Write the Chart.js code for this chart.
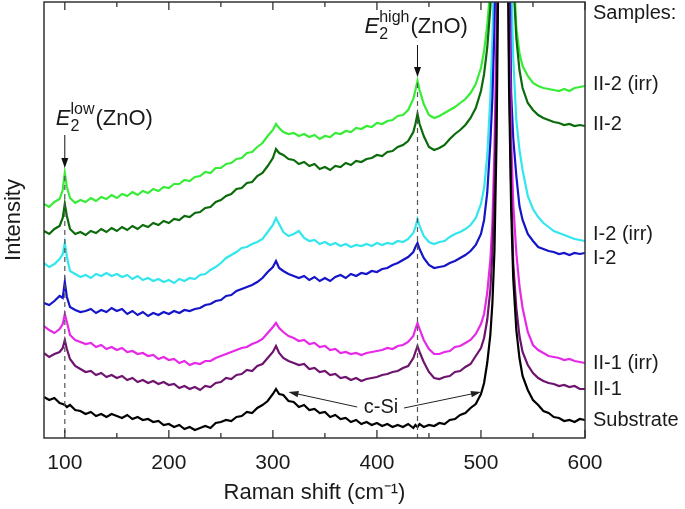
<!DOCTYPE html>
<html>
<head>
<meta charset="utf-8">
<script src="https://cdn.jsdelivr.net/npm/chart.js@4.4.1/dist/chart.umd.min.js"></script>
<style>
  html, body { margin: 0; padding: 0; background: #ffffff; }
  #wrap { width: 685px; height: 509px; }
</style>
</head>
<body>
<div id="wrap"><canvas id="c" width="685" height="509"></canvas></div>
<script>
// ---- Data (intensity in arbitrary units, curves already offset) ----
const ramanShift = [80,85,90,95,98,100,102,105,110,115,120,125,130,135,140,145,150,155,160,165,170,175,180,185,190,195,200,205,210,215,220,225,230,235,240,245,250,255,260,265,270,275,280,285,290,295,300,303,306,310,315,320,325,330,335,340,345,350,355,360,365,370,375,380,385,390,395,400,405,410,415,420,425,430,435,437,439,441,445,450,455,460,465,470,475,480,485,490,495,500,503,506,509,511,513,515,517,519,521,523,525,527,529,531,534,537,540,545,550,555,560,565,570,575,580,585,590,595,600];

const substrate = [41,38,40,35,34,33,31,33,28,27,24,26,22,24,21,24,22,20,23,19,21,18,19,16,17,13,14,11,13,9,11,8,10,12,10,15,16,18,17,21,22,26,25,30,33,37,44,49,44,43,37,36,31,33,28,29,25,26,21,23,19,20,16,18,14,16,13,15,12,14,11,13,11,14,10,13,11,14,11,13,12,15,14,18,19,23,25,30,34,44,55,75,103,135,188,300,500,850,1200,1050,580,350,230,160,108,80,62,48,38,33,27,25,21,20,17,18,16,19,18];

const sampleII1 = [85,81,84,86,90,98,89,79,72,69,66,67,63,65,61,63,60,62,58,60,56,58,55,57,54,56,53,54,50,52,49,51,48,52,51,55,56,60,59,63,64,68,67,72,74,80,86,92,85,80,77,75,73,74,69,70,66,67,63,64,60,61,58,60,57,59,60,61,63,64,66,67,70,72,80,86,92,86,76,66,60,59,61,62,66,67,71,74,82,90,100,118,148,185,250,360,560,900,1250,1100,620,380,250,175,130,102,86,73,65,60,57,55,54,52,53,51,52,49,49];

const sampleII1irr = [112,108,105,109,114,124,116,103,98,96,94,95,91,93,89,91,88,90,86,87,84,85,82,83,79,81,78,79,75,77,73,75,74,77,77,80,82,84,86,88,90,91,94,96,99,105,111,115,110,106,102,100,97,98,94,95,91,92,88,89,85,86,84,85,83,85,86,87,88,90,89,92,93,96,102,109,115,109,98,89,84,84,86,87,91,92,95,98,104,114,124,145,178,215,290,410,600,950,1300,1150,680,430,300,235,185,152,130,106,93,88,85,82,81,80,78,79,77,76,75];

const sampleI2 = [135,133,137,142,140,156,141,131,128,126,127,129,125,128,126,130,127,129,124,127,123,126,122,125,123,126,124,127,125,128,127,129,130,133,134,137,138,142,143,147,149,151,153,156,160,166,171,177,170,167,164,162,160,162,158,161,157,160,157,161,163,160,164,162,165,164,167,166,169,170,173,175,178,181,186,191,195,189,180,173,170,171,172,175,177,180,183,187,193,204,218,245,295,340,410,520,700,1000,1400,1250,800,520,345,300,262,232,218,204,197,191,189,187,186,184,185,183,185,184,185];

const sampleI2irr = [175,171,174,179,184,195,181,167,164,161,163,160,164,162,165,162,164,161,163,159,162,158,160,157,159,156,158,155,159,157,160,159,163,164,168,171,175,180,183,186,190,191,194,196,199,206,213,220,214,206,202,204,207,200,197,198,194,196,193,195,192,194,191,193,192,194,192,195,193,195,194,197,196,199,205,211,219,212,202,196,194,196,197,201,204,206,209,213,220,234,250,282,340,400,480,600,800,1100,1500,1350,900,620,460,380,318,288,268,242,229,221,215,211,207,205,203,201,199,198,197];

const sampleII2 = [207,204,209,212,220,234,222,209,204,206,203,207,205,209,206,210,207,211,208,212,209,213,211,215,213,217,215,219,218,222,221,225,226,230,231,236,238,242,244,249,250,255,256,262,265,272,280,289,285,283,279,278,274,276,272,274,269,271,268,272,271,275,273,277,276,279,280,283,282,286,287,291,293,297,306,314,324,314,302,291,288,290,293,299,304,308,313,320,330,347,364,390,430,480,560,680,900,1200,1600,1450,1000,700,540,460,400,368,350,335,328,323,320,318,316,315,313,314,312,313,312];

const sampleII2irr = [234,231,236,239,248,265,251,240,235,238,236,240,237,241,239,243,240,244,242,246,243,247,245,249,247,251,250,254,254,258,257,261,262,266,265,270,270,274,275,279,280,285,286,291,295,302,308,314,310,306,304,305,302,304,301,303,299,302,301,305,304,307,306,310,309,312,311,315,314,317,318,322,323,328,339,348,357,348,334,323,320,322,325,328,331,335,339,345,354,370,387,412,450,500,580,700,900,1200,1600,1450,1000,720,560,480,410,385,372,362,355,352,350,349,348,347,349,347,350,351,352];

const sampleNames = ['Substrate','II-1','II-1 (irr)','I-2','I-2 (irr)','II-2','II-2 (irr)'];
const xTickValues = [100,150,200,250,300,350,400,450,500,550,600];
const xLabelValues = [100,200,300,400,500,600];
const peakLow = 100;   // E2 low (ZnO)
const peakHigh = 439;  // E2 high (ZnO)

// ---- Styling ----
const seriesList = [substrate, sampleII1, sampleII1irr, sampleI2, sampleI2irr, sampleII2, sampleII2irr];
const colours = ['#000000','#6e146e','#e629e6','#1414c8','#33e6ee','#0b6b0b','#36ec36'];
const FONT = "'Liberation Sans', Arial, Helvetica, sans-serif";
const TXT = '#1a1a1a';

const datasets = seriesList.map((arr, i) => ({
  label: sampleNames[i],
  data: ramanShift.map((x, k) => ({ x: x, y: arr[k] })),
  borderColor: colours[i],
  backgroundColor: colours[i],
  borderWidth: 2.2,
  pointRadius: 0,
  tension: 0,
  fill: false,
  order: i,
  clip: 0
}));

function arrow(ctx, x1, y1, x2, y2, head, w) {
  const a = Math.atan2(y2 - y1, x2 - x1);
  ctx.beginPath();
  ctx.moveTo(x1, y1);
  ctx.lineTo(x2 - Math.cos(a) * head * 0.8, y2 - Math.sin(a) * head * 0.8);
  ctx.stroke();
  ctx.beginPath();
  ctx.moveTo(x2, y2);
  ctx.lineTo(x2 - Math.cos(a) * head + Math.sin(a) * w, y2 - Math.sin(a) * head - Math.cos(a) * w);
  ctx.lineTo(x2 - Math.cos(a) * head - Math.sin(a) * w, y2 - Math.sin(a) * head + Math.cos(a) * w);
  ctx.closePath();
  ctx.fill();
}

function e2Label(ctx, x, y, sup) {
  ctx.textAlign = 'left';
  ctx.textBaseline = 'alphabetic';
  ctx.font = 'italic 22px ' + FONT;
  ctx.fillText('E', x, y);
  let xx = x + ctx.measureText('E').width;
  ctx.font = '16px ' + FONT;
  ctx.fillText('2', xx, y + 6);
  const w2 = ctx.measureText('2').width;
  ctx.fillText(sup, xx, y - 11);
  const ws = ctx.measureText(sup).width;
  xx += Math.max(w2, ws) + 1;
  ctx.font = '22px ' + FONT;
  ctx.fillText('(ZnO)', xx, y);
}

const overlay = {
  id: 'overlay',
  afterDatasetsDraw(chart) {
    const ctx = chart.ctx;
    const xs = chart.scales.x, ys = chart.scales.y;
    const area = chart.chartArea;
    ctx.save();

    // dashed guide lines at the ZnO E2 modes
    ctx.strokeStyle = '#555';
    ctx.lineWidth = 1.2;
    ctx.setLineDash([5, 4]);
    [[peakLow, 262], [peakHigh, 355]].forEach(([v, top]) => {
      const px = xs.getPixelForValue(v);
      ctx.beginPath();
      ctx.moveTo(px, ys.getPixelForValue(top));
      ctx.lineTo(px, area.bottom);
      ctx.stroke();
    });
    ctx.setLineDash([]);

    // arrows + labels for E2 modes
    ctx.strokeStyle = '#111';
    ctx.fillStyle = '#111';
    ctx.lineWidth = 1;
    const pl = xs.getPixelForValue(peakLow);
    arrow(ctx, pl, ys.getPixelForValue(303), pl, ys.getPixelForValue(270), 10, 3.5);
    const ph = xs.getPixelForValue(peakHigh);
    arrow(ctx, ph, ys.getPixelForValue(393), ph, ys.getPixelForValue(361), 10, 3.5);
    ctx.fillStyle = TXT;
    e2Label(ctx, pl - 9, ys.getPixelForValue(313), 'low');
    e2Label(ctx, ph - 53, ys.getPixelForValue(405), 'high');

    // c-Si annotation
    ctx.font = '20px ' + FONT;
    ctx.textAlign = 'center';
    ctx.textBaseline = 'alphabetic';
    ctx.fillText('c-Si', xs.getPixelForValue(404), ys.getPixelForValue(25));
    ctx.strokeStyle = '#222';
    ctx.fillStyle = '#222';
    ctx.lineWidth = 1;
    arrow(ctx, xs.getPixelForValue(381), ys.getPixelForValue(31), xs.getPixelForValue(315), ys.getPixelForValue(46), 10, 3.2);
    arrow(ctx, xs.getPixelForValue(426), ys.getPixelForValue(30), xs.getPixelForValue(500), ys.getPixelForValue(46), 10, 3.2);

    // frame
    ctx.strokeStyle = '#333';
    ctx.lineWidth = 1.5;
    ctx.strokeRect(area.left, area.top, area.right - area.left, area.bottom - area.top);

    // inward ticks on top and bottom
    ctx.lineWidth = 1.3;
    xs.ticks.forEach(t => {
      const px = xs.getPixelForValue(t.value);
      const len = xLabelValues.includes(t.value) ? 8 : 5;
      ctx.beginPath();
      ctx.moveTo(px, area.bottom); ctx.lineTo(px, area.bottom - len);
      ctx.moveTo(px, area.top); ctx.lineTo(px, area.top + len);
      ctx.stroke();
    });

    // sample labels on the right
    ctx.fillStyle = TXT;
    ctx.font = '20px ' + FONT;
    ctx.textAlign = 'left';
    ctx.textBaseline = 'middle';
    const lx = area.right + 8;
    ctx.fillText('Samples:', lx, 13);
    const nudge = { 'I-2 (irr)': 7, 'I-2': -5, 'II-2 (irr)': 2, 'II-2': 2 };
    seriesList.forEach((arr, i) => {
      const name = sampleNames[i];
      const v = arr[arr.length - 1] + (nudge[name] || 0);
      ctx.fillText(name, lx, ys.getPixelForValue(v));
    });
    ctx.restore();
  }
};

new Chart(document.getElementById('c'), {
  type: 'line',
  data: { datasets: datasets },
  options: {
    responsive: false,
    devicePixelRatio: 1,
    animation: false,
    events: [],
    layout: { padding: { left: 0, right: 100, top: 2, bottom: 0 } },
    plugins: { legend: { display: false }, tooltip: { enabled: false } },
    scales: {
      x: {
        type: 'linear',
        min: 80, max: 600,
        grid: { display: false, drawTicks: false },
        border: { display: false },
        afterBuildTicks: (s) => { s.ticks = xTickValues.map(v => ({ value: v })); },
        ticks: {
          autoSkip: false,
          maxRotation: 0,
          padding: 13,
          color: TXT,
          font: { family: FONT, size: 21 },
          callback: (v) => xLabelValues.includes(v) ? String(v) : ''
        },
        title: {
          display: true,
          text: 'Raman shift (cm\u207B\u00B9)',
          color: TXT,
          font: { family: FONT, size: 22 },
          padding: { top: 0, bottom: 3 }
        },
        afterFit: (s) => { s.height = 71; }
      },
      y: {
        type: 'linear',
        min: 0, max: 436,
        grid: { display: false, drawTicks: false },
        border: { display: false },
        ticks: { display: false },
        title: {
          display: true,
          text: 'Intensity',
          color: TXT,
          font: { family: FONT, size: 22 },
          padding: { top: 1, bottom: 0 }
        },
        afterFit: (s) => { s.width = 44; }
      }
    }
  },
  plugins: [overlay]
});
</script>
</body>
</html>
